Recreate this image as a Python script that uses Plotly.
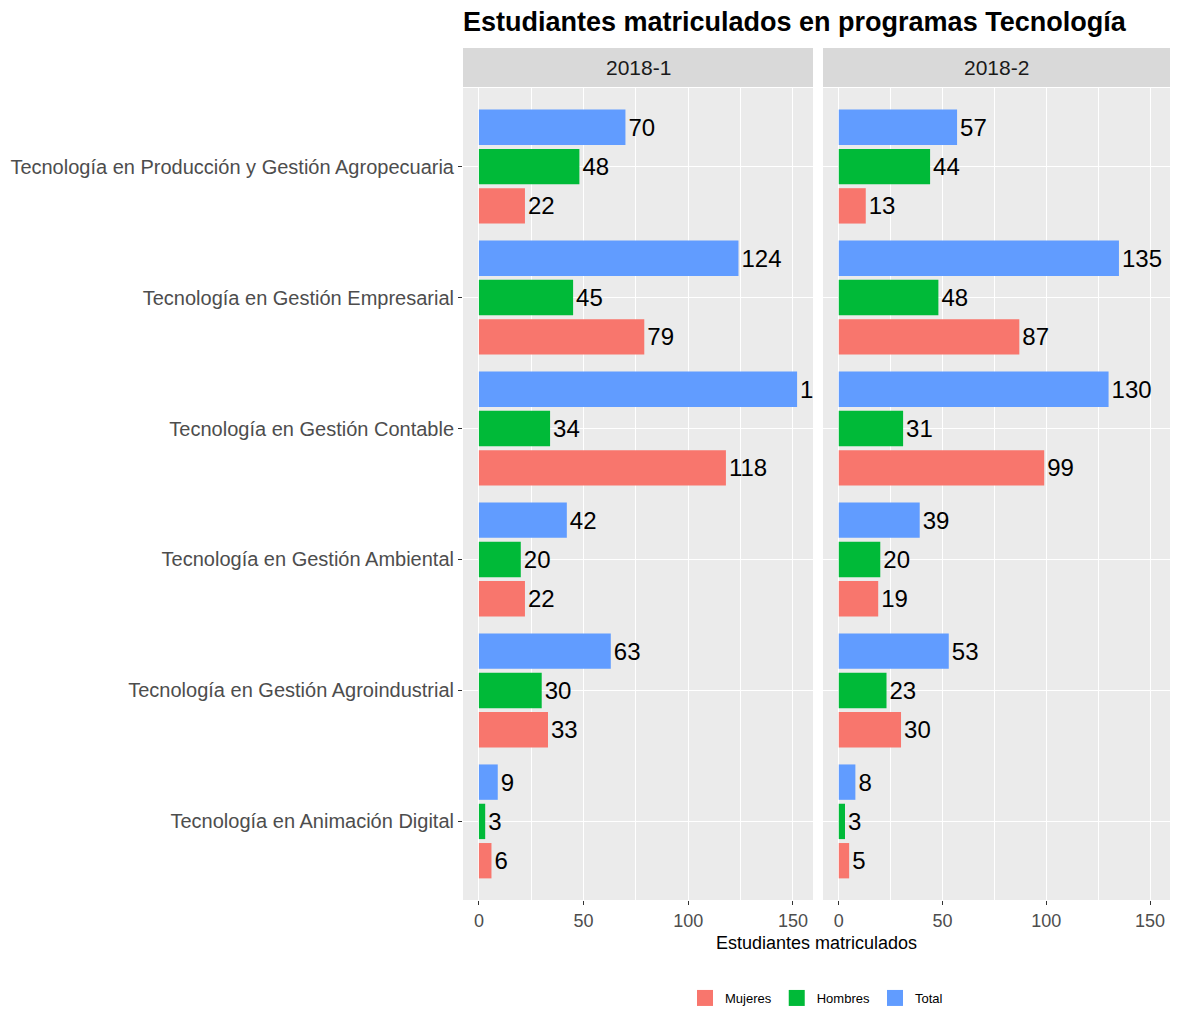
import plotly.graph_objects as go

# programas (de abajo hacia arriba en el eje)
programas = [
    'Tecnología en Animación Digital',
    'Tecnología en Gestión Agroindustrial',
    'Tecnología en Gestión Ambiental',
    'Tecnología en Gestión Contable',
    'Tecnología en Gestión Empresarial',
    'Tecnología en Producción y Gestión Agropecuaria',
]
periodos = ['2018-1', '2018-2']

mujeres_2018_1 = [6, 33, 22, 118, 79, 22]
hombres_2018_1 = [3, 30, 20, 34, 45, 48]
total_2018_1 = [9, 63, 42, 152, 124, 70]

mujeres_2018_2 = [5, 30, 19, 99, 87, 13]
hombres_2018_2 = [3, 23, 20, 31, 48, 44]
total_2018_2 = [8, 53, 39, 130, 135, 57]

series = ['Mujeres', 'Hombres', 'Total']
colores = {'Mujeres': '#F8766D', 'Hombres': '#00BA38', 'Total': '#619CFF'}

datos = {
    '2018-1': {'Mujeres': mujeres_2018_1, 'Hombres': hombres_2018_1, 'Total': total_2018_1},
    '2018-2': {'Mujeres': mujeres_2018_2, 'Hombres': hombres_2018_2, 'Total': total_2018_2},
}

fig = go.Figure()

for i, per in enumerate(periodos):
    xa = 'x' if i == 0 else 'x2'
    for s in series:
        vals = datos[per][s]
        fig.add_trace(go.Bar(
            y=programas, x=vals, orientation='h',
            name=s, marker_color=colores[s], marker_line_width=0,
            text=[str(v) for v in vals], textposition='outside',
            textfont=dict(size=24, color='black', family='Liberation Sans'),
            constraintext='none', cliponaxis=True,
            xaxis=xa, yaxis='y', showlegend=False,
            legendgroup=s, hoverinfo='x+y',
        ))

# entradas de leyenda con cuadros grandes
for s in series:
    fig.add_trace(go.Scatter(
        x=[None], y=[None], mode='markers', name=s, legendgroup=s,
        marker=dict(symbol='square', size=30, color=colores[s]),
        xaxis='x', yaxis='y', showlegend=True,
    ))

# la página deja 8 px de margen arriba y a la izquierda
W, H = 1181, 1014
ml, mr, mt, mb = 455, 19, 80, 122
pw = W - ml - mr
ph = H - mt - mb

eje_x = dict(
    range=[-7.6, 159.6], tickvals=[0, 50, 100, 150],
    showgrid=True, gridcolor='white', gridwidth=1.3,
    minor=dict(tickvals=[25, 75, 125], showgrid=True, gridcolor='white', gridwidth=0.6),
    ticks='outside', ticklen=4, tickcolor='#333333',
    tickfont=dict(size=18, color='#4d4d4d'),
    zeroline=False, showline=False, automargin=False,
)

fig.update_layout(
    width=W, height=H,
    margin=dict(l=ml, r=mr, t=mt, b=mb, autoexpand=False),
    paper_bgcolor='white', plot_bgcolor='#EBEBEB',
    font=dict(family='Liberation Sans', color='#4d4d4d'),
    barmode='group', bargap=0.1, bargroupgap=0.1,
    title=dict(text='<b>Estudiantes matriculados en programas Tecnología</b>',
               x=0, xref='paper', xanchor='left', y=1 - 14 / H, yanchor='middle',
               font=dict(size=27, color='black')),
    xaxis=dict(domain=[0, 350 / pw], anchor='y', **eje_x),
    xaxis2=dict(domain=[360 / pw, 1], anchor='y', **eje_x),
    yaxis=dict(range=[-0.6, 5.6], showgrid=True, gridcolor='white', gridwidth=1.3,
               ticks='outside', ticklen=4, tickcolor='#333333', automargin=False,
               tickfont=dict(size=20, color='#4d4d4d'), zeroline=False),
    legend=dict(orientation='h', x=0.5, xanchor='center', y=-98 / ph, yanchor='middle',
                font=dict(size=13, color='black'), itemwidth=30, tracegroupgap=0),
    shapes=[
        dict(type='rect', xref='x domain', yref='paper', x0=0, x1=1,
             y0=1 + 1 / ph, y1=1 + 40 / ph, fillcolor='#D9D9D9', line_width=0, layer='below'),
        dict(type='rect', xref='x2 domain', yref='paper', x0=0, x1=1,
             y0=1 + 1 / ph, y1=1 + 40 / ph, fillcolor='#D9D9D9', line_width=0, layer='below'),
    ],
    annotations=[
        dict(text='2018-1', xref='x domain', yref='paper', x=0.5, y=1 + 20.5 / ph,
             yanchor='middle', showarrow=False, font=dict(size=21, color='#1a1a1a')),
        dict(text='2018-2', xref='x2 domain', yref='paper', x=0.5, y=1 + 20.5 / ph,
             yanchor='middle', showarrow=False, font=dict(size=21, color='#1a1a1a')),
        dict(text='Estudiantes matriculados', xref='paper', yref='paper', x=0.5,
             y=-43 / ph, yanchor='middle', showarrow=False, font=dict(size=18, color='black')),
    ],
)

fig.write_html('out.html')
